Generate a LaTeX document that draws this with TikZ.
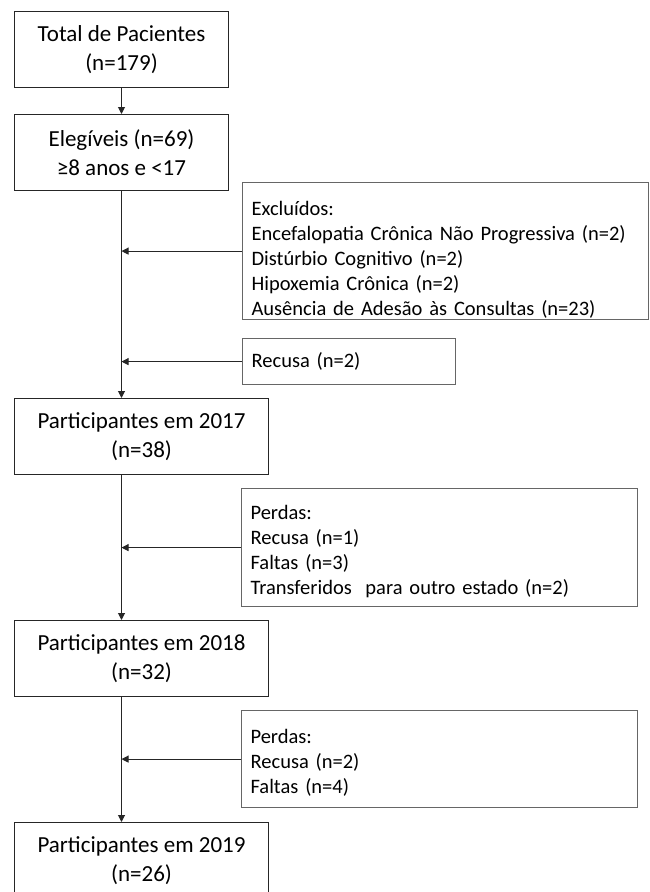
\documentclass[tikz,border=0pt]{standalone}
\usepackage{fontspec}
\setmainfont{Carlito}
\usepackage{tikz}
\usetikzlibrary{arrows.meta, positioning}

\begin{document}
\begin{tikzpicture}[
        x=1pt, y=-1pt,
        mainbox/.style={rectangle, draw=black!85, line width=1pt, align=center, minimum width=214pt, minimum height=76pt, inner sep=0pt, anchor=north west, font=\fontsize{23}{29}\selectfont},
        widebox/.style={mainbox, minimum width=254pt},
        sidebox/.style={rectangle, draw=black!60, line width=1.2pt, align=left, text width=#1, inner xsep=9pt, inner ysep=0pt, anchor=north west, font=\fontsize{20.5}{25}\selectfont},
        push/.style={execute at begin node={\rule{0pt}{#1}}},
        arrow/.style={-{Triangle[length=7pt, width=7pt]}, line width=1pt, color=black!85}
    ]
    \clip (0,0) rectangle (649,892);
    % main column
    \node [mainbox] (total) at (14,11) {Total de Pacientes\\(n=179)};
    \node [mainbox] (eleg) at (14,114) {Elegíveis (n=69)\\≥8 anos e <17};
    \node [widebox] (p17) at (14,398) {Participantes em 2017\\(n=38)};
    \node [widebox] (p18) at (14,620) {Participantes em 2018\\(n=32)};
    \node [widebox] (p19) at (14,822) {Participantes em 2019\\(n=26)};
    % side boxes
    \node [sidebox=388pt, minimum height=137pt, push=31pt] (excl) at (242,182) {Excluídos:\\Encefalopatia Crônica Não Progressiva (n=2)\\Distúrbio Cognitivo (n=2)\\Hipoxemia Crônica (n=2)\\Ausência de Adesão às Consultas (n=23)};
    \node [sidebox=195pt, minimum height=46pt] (recusa) at (242,338) {Recusa (n=2)};
    \node [sidebox=378pt, minimum height=118pt, push=21.5pt] (perdasA) at (241,488) {Perdas:\\Recusa (n=1)\\Faltas (n=3)\\Transferidos\ \ para outro estado (n=2)};
    \node [sidebox=378pt, minimum height=97pt, push=21.5pt] (perdasB) at (241,710) {Perdas:\\Recusa (n=2)\\Faltas (n=4)};
    % flow
    \draw [arrow] (total) -- (eleg);
    \draw [arrow] (eleg) -- (eleg.south |- p17.north);
    \draw [arrow] (eleg.south |- p17.south) -- (eleg.south |- p18.north);
    \draw [arrow] (eleg.south |- p18.south) -- (eleg.south |- p19.north);
    \draw [arrow] (excl) -- (excl -| eleg.south);
    \draw [arrow] (recusa) -- (recusa -| eleg.south);
    \draw [arrow] (perdasA) -- (perdasA -| eleg.south);
    \draw [arrow] (perdasB) -- (perdasB -| eleg.south);
\end{tikzpicture}
\end{document}
